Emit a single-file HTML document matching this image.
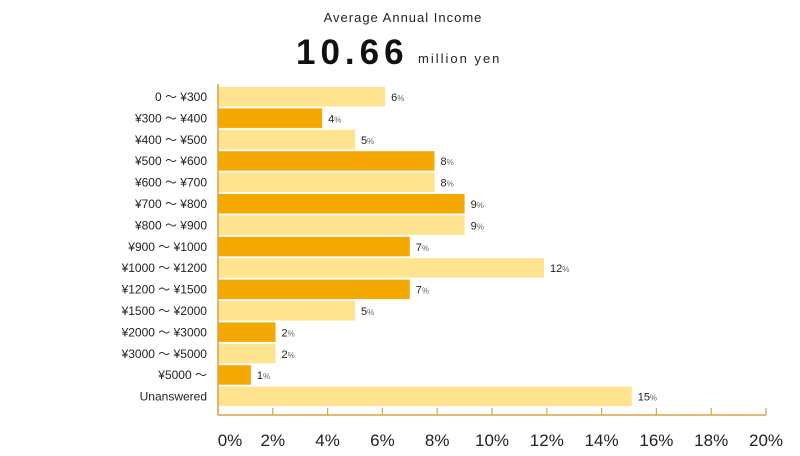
<!DOCTYPE html>
<html><head><meta charset="utf-8"><style>
body{margin:0;background:#fff;width:800px;height:451px;overflow:hidden;font-family:"Liberation Sans","Noto Sans CJK JP",sans-serif;}
svg text{font-family:"Liberation Sans","Noto Sans CJK JP",sans-serif;}
</style></head><body>
<svg width="800" height="451" id="c">
<text x="403" y="22" text-anchor="middle" font-size="13" letter-spacing="1" fill="#222">Average Annual Income</text>
<text x="296" y="64" font-size="35" font-weight="bold" letter-spacing="5" fill="#111">10.66</text>
<text x="418" y="63" font-size="13" letter-spacing="2" fill="#222">million yen</text>
</svg>
<script>
const categories=["0 〜 ¥300","¥300 〜 ¥400","¥400 〜 ¥500","¥500 〜 ¥600","¥600 〜 ¥700","¥700 〜 ¥800","¥800 〜 ¥900","¥900 〜 ¥1000","¥1000 〜 ¥1200","¥1200 〜 ¥1500","¥1500 〜 ¥2000","¥2000 〜 ¥3000","¥3000 〜 ¥5000","¥5000 〜","Unanswered"];
const values=[6.1,3.8,5.0,7.9,7.9,9.0,9.0,7.0,11.9,7.0,5.0,2.1,2.1,1.2,15.1];
const labels=["6","4","5","8","8","9","9","7","12","7","5","2","2","1","15"];
const ticks=[0,2,4,6,8,10,12,14,16,18,20];
const NS="http://www.w3.org/2000/svg",svgEl=document.getElementById('c');
const x0=218,x1=766,yTop=87,pitch=21.4,bh=19.5,axisY=415;
const xs=v=>x0+(x1-x0)*v/20, ys=i=>yTop+i*pitch;
function mk(t,a){const e=document.createElementNS(NS,t);for(const k in a)e.setAttribute(k,a[k]);svgEl.appendChild(e);return e;}
categories.forEach((c,i)=>{
 const y=ys(i);
 const r=mk('rect',{x:x0,y:y,width:xs(values[i])-x0,height:bh,fill:i%2?'#F5A800':'#FFE38F'});
 
 
 const l=mk('text',{x:207,y:y+14,'text-anchor':'end','font-size':12,fill:'#222'});l.textContent=c;
 
 
 const v=mk('text',{x:xs(values[i])+6,y:y+14,'font-size':11,fill:'#222'});
 v.textContent=labels[i];
 const sp=document.createElementNS(NS,'tspan');sp.setAttribute('font-size','8');sp.setAttribute('fill','#666');sp.textContent='%';v.appendChild(sp);
 
 
});
const ya=mk('line',{x1:x0,y1:84,x2:x0,y2:axisY,stroke:'#D9A24A','stroke-width':1.5});


const xa=mk('line',{x1:x0,y1:axisY,x2:x1,y2:axisY,stroke:'#D9A24A','stroke-width':1.5});


ticks.forEach(t=>{
 const tk=mk('line',{x1:xs(t),y1:axisY-7,x2:xs(t),y2:axisY,stroke:'#D9A24A','stroke-width':1.2});
 
 
 const tl=mk('text',{x:xs(t)+(t==0?12:0),y:446,'text-anchor':'middle','font-size':17,fill:'#222'});
 tl.textContent=t+'%';
 
 
});
</script>
</body></html>
